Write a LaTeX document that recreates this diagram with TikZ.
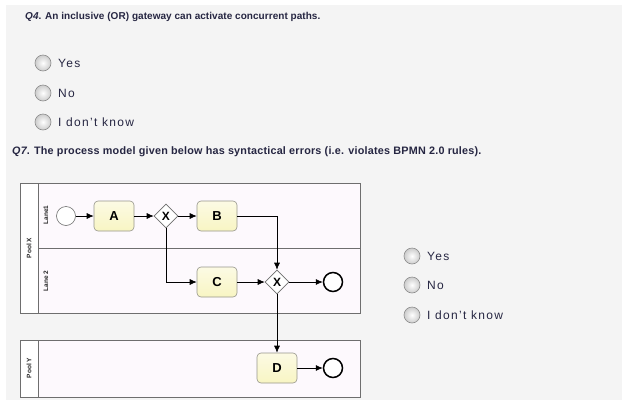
\documentclass[tikz,border=0pt]{standalone}
\usepackage{fontspec}
\setmainfont{Liberation Sans}
\usetikzlibrary{shapes.geometric,arrows.meta,calc}
\definecolor{qtext}{RGB}{38,38,66}
\definecolor{pagebg}{RGB}{244,244,244}
\definecolor{poolbg}{RGB}{253,249,253}
\definecolor{taskfill}{RGB}{248,245,195}
\definecolor{taskline}{RGB}{150,150,140}
\definecolor{lineg}{RGB}{110,110,110}
\tikzset{
  qfour/.style={anchor=west,inner sep=0pt,text=qtext,font=\fontsize{10}{12}\selectfont\bfseries\addfontfeature{LetterSpace=0.5}},
  qseven/.style={anchor=west,inner sep=0pt,text=qtext,font=\fontsize{10.8}{12}\selectfont\bfseries\addfontfeature{LetterSpace=2}},
  opttext/.style={anchor=west,inner sep=0pt,text=qtext,font=\fontsize{12}{13}\selectfont\addfontfeature{LetterSpace=11}},
  radio/.style={circle,draw=gray!90,line width=0.6pt,minimum size=16pt,inner sep=0pt,inner color=white,outer color=gray!40},
  task/.style={rectangle,rounded corners=4pt,draw=taskline,line width=0.6pt,top color=taskfill!45,bottom color=taskfill,minimum width=40pt,minimum height=30pt,inner sep=0pt,font=\fontsize{13}{14}\selectfont\bfseries},
  gw/.style={diamond,draw=lineg,fill=white,line width=0.6pt,minimum width=24pt,minimum height=24pt,inner sep=0pt,font=\fontsize{12}{13}\selectfont\bfseries},
  startev/.style={circle,draw=lineg,fill=white,line width=0.6pt,minimum size=19pt,inner sep=0pt},
  endev/.style={circle,draw=black,fill=white,line width=1.5pt,minimum size=19pt,inner sep=0pt},
  flow/.style={draw=black,line width=0.7pt,-{Latex[length=7pt,width=6pt]}},
  poolbox/.style={draw=lineg,line width=0.8pt,fill=poolbg},
  band/.style={draw=lineg,line width=0.8pt,fill=white},
  lbl/.style={rotate=90,inner sep=0pt,font=\fontsize{6.5}{7}\selectfont\bfseries,text=black!85}
}
\begin{document}
\begin{tikzpicture}[x=1pt,y=-1pt]
\useasboundingbox (0,0) rectangle (622,400);
\fill[white] (0,0) rectangle (622,400);
\fill[pagebg] (6,5) rectangle (622,400);

% Q4
\node[qfour] (q4) at (25,17) {\textit{Q4}. An inclusive (OR) gateway can activate concurrent paths.};
\node[radio] (r1) at (43,63) {};
\node[opttext] (t1) at (58,63) {Yes};
\node[radio] (r2) at (43,93) {};
\node[opttext] (t2) at (58,93) {No};
\node[radio] (r3) at (43,122) {};
\node[opttext] (t3) at (58,122) {I don't know};

% Q7
\node[qseven] (q7) at (12,152) {\textit{Q7}. The process model given below has syntactical errors (i.e. violates BPMN 2.0 rules).};

% Pools
\path[poolbox] (20,183) rectangle (360,313);
\path[band] (20,183) rectangle (38,313);
\draw[lineg,line width=0.8pt] (38,248) -- (360,248);
\path[poolbox] (20,340) rectangle (360,397);
\path[band] (20,340) rectangle (38,397);
\node[lbl] (px) at (29,248) {Pool X};
\node[lbl] (py) at (29,368) {Pool Y};
\node[lbl] (l1) at (46,215) {Lane1};
\node[lbl] (l2) at (46,281) {Lane 2};

% Elements
\node[startev] (s) at (66,216) {};
\node[task] (A) at (114,216) {A};
\node[gw] (g1) at (166,216) {X};
\node[task] (B) at (217,216) {B};
\node[task] (C) at (217,282) {C};
\node[gw] (g2) at (277,282) {X};
\node[endev] (e1) at (333,282) {};
\node[task] (D) at (277,368) {D};
\node[endev] (e2) at (333,368) {};

% Flows
\draw[flow] (s) -- (A);
\draw[flow] (A) -- (g1);
\draw[flow] (g1) -- (B);
\draw[flow] (B.east) -| (g2.north);
\draw[flow] (g1.south) |- (C.west);
\draw[flow] (C) -- (g2);
\draw[flow] (g2) -- (e1);
\draw[flow] (g2.south) -- (D.north);
\draw[flow] (D) -- (e2);

% Right options
\node[radio] (r4) at (412,256) {};
\node[opttext] (t4) at (427,256) {Yes};
\node[radio] (r5) at (412,285) {};
\node[opttext] (t5) at (427,285) {No};
\node[radio] (r6) at (412,315) {};
\node[opttext] (t6) at (427,315) {I don't know};
\end{tikzpicture}
\end{document}
